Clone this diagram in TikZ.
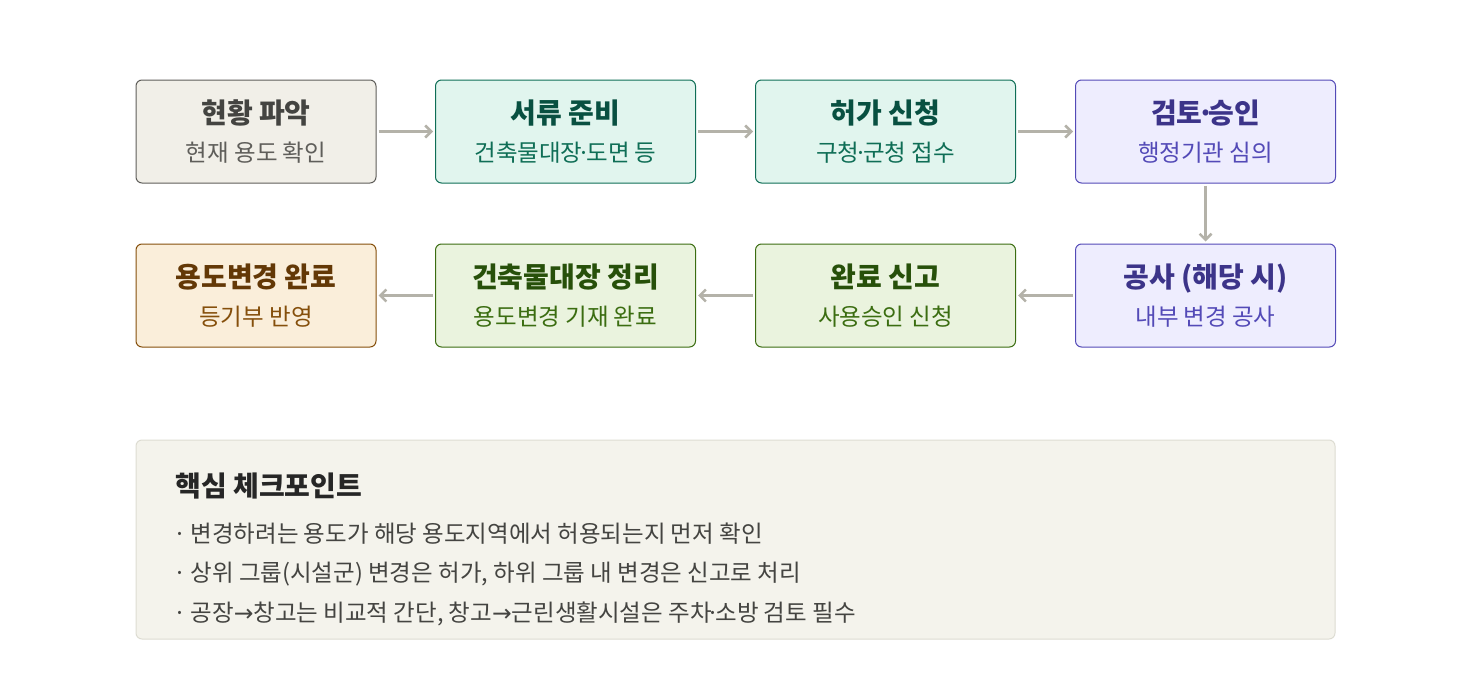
\documentclass[tikz,border=0pt]{standalone}
\usepackage{fontspec}
\setmainfont{Noto Sans CJK KR}
\usetikzlibrary{positioning,arrows.meta}
\definecolor{grayF}{HTML}{F1EFE8}\definecolor{grayD}{HTML}{5F5E5A}\definecolor{grayT}{HTML}{444441}
\definecolor{tealF}{HTML}{E1F5EE}\definecolor{tealD}{HTML}{0F6E56}\definecolor{tealT}{HTML}{085041}
\definecolor{purpF}{HTML}{EEEDFE}\definecolor{purpD}{HTML}{534AB7}\definecolor{purpT}{HTML}{3C3489}
\definecolor{grnF}{HTML}{EAF3DE}\definecolor{grnD}{HTML}{3B6D11}\definecolor{grnT}{HTML}{27500A}
\definecolor{orF}{HTML}{FAEEDA}\definecolor{orD}{HTML}{854F0B}\definecolor{orT}{HTML}{633806}
\definecolor{arr}{HTML}{B4B2A9}\definecolor{panelF}{HTML}{F4F3EC}\definecolor{panelD}{HTML}{DDDCD2}
\newcommand{\md}{\kern-0.2em·\kern-0.2em}

\begin{document}
\begin{tikzpicture}[x=1pt,y=-1pt]
    \tikzstyle{stage}=[draw, rounded corners=6pt, line width=1pt, minimum height=103pt, align=center, font=\fontsize{23.5}{38}\selectfont]
    \tikzstyle{flow}=[-{Straight Barb[length=6pt,width=12pt]}, draw=arr, line width=2.5pt, shorten >=2pt, shorten <=2pt]

    \useasboundingbox (0,0) rectangle (1472,680);

    % Top row
    \node[stage, fill=grayF, draw=grayD, minimum width=240pt, text=grayD] (s1) at (256,131.5) {{\color{grayT}\fontsize{28}{38}\selectfont\bfseries 현황 파악}\\현재 용도 확인};
    \node[stage, fill=tealF, draw=tealD, minimum width=260pt, text=tealD] (s2) at (565.5,131.5) {{\color{tealT}\fontsize{28}{38}\selectfont\bfseries 서류 준비}\\건축물대장\md 도면 등};
    \node[stage, fill=tealF, draw=tealD, minimum width=260pt, text=tealD] (s3) at (885.5,131.5) {{\color{tealT}\fontsize{28}{38}\selectfont\bfseries 허가 신청}\\구청\md 군청 접수};
    \node[stage, fill=purpF, draw=purpD, minimum width=260pt, text=purpD] (s4) at (1205.5,131.5) {{\color{purpT}\fontsize{28}{38}\selectfont\bfseries 검토\md 승인}\\행정기관 심의};

    % Bottom row
    \node[stage, fill=purpF, draw=purpD, minimum width=260pt, text=purpD] (s5) at (1205.5,295.5) {{\color{purpT}\fontsize{28}{38}\selectfont\bfseries 공사 (해당 시)}\\내부 변경 공사};
    \node[stage, fill=grnF, draw=grnD, minimum width=260pt, text=grnD] (s6) at (885.5,295.5) {{\color{grnT}\fontsize{28}{38}\selectfont\bfseries 완료 신고}\\사용승인 신청};
    \node[stage, fill=grnF, draw=grnD, minimum width=260pt, text=grnD] (s7) at (565.5,295.5) {{\color{grnT}\fontsize{28}{38}\selectfont\bfseries 건축물대장 정리}\\용도변경 기재 완료};
    \node[stage, fill=orF, draw=orD, minimum width=240pt, text=orD] (s8) at (256,295.5) {{\color{orT}\fontsize{28}{38}\selectfont\bfseries 용도변경 완료}\\등기부 반영};

    % Connect the stages
    \draw[flow] (s1) -- (s2);
    \draw[flow] (s2) -- (s3);
    \draw[flow] (s3) -- (s4);
    \draw[flow] (s4) -- (s5);
    \draw[flow] (s5) -- (s6);
    \draw[flow] (s6) -- (s7);
    \draw[flow] (s7) -- (s8);

    % Checkpoint panel
    \node[draw=panelD, fill=panelF, rounded corners=6pt, line width=1pt, minimum width=1199pt, minimum height=199pt] (panel) at (735.5,539.5) {};
    \node[anchor=west, font=\fontsize{28}{30}\selectfont\bfseries, text=black!85] (ptitle) at (172,486) {핵심 체크포인트};
    \node[anchor=west, font=\fontsize{23.5}{26}\selectfont, text=grayT] (p1) at (170,534) {·\,변경하려는 용도가 해당 용도지역에서 허용되는지 먼저 확인};
    \node[anchor=west, font=\fontsize{23.5}{26}\selectfont, text=grayT] (p2) at (170,574) {·\,상위 그룹(시설군) 변경은 허가, 하위 그룹 내 변경은 신고로 처리};
    \node[anchor=west, font=\fontsize{23.5}{26}\selectfont, text=grayT] (p3) at (170,614) {·\,공장{\fontspec{DejaVu Sans}→}창고는 비교적 간단, 창고{\fontspec{DejaVu Sans}→}근린생활시설은 주차\md 소방 검토 필수};
\end{tikzpicture}
\end{document}
